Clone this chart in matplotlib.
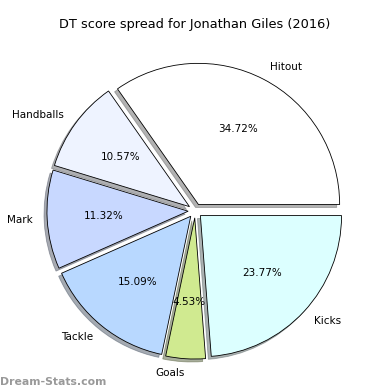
import matplotlib
matplotlib.use("Agg")
import matplotlib.pyplot as plt

labels = ["Hitout", "Handballs", "Mark", "Tackle", "Goals", "Kicks"]
values = [34.72, 10.57, 11.32, 15.09, 4.53, 23.77]
colors = ["#ffffff", "#eef3ff", "#c8d8ff", "#b8d8ff", "#d0ea90", "#dcffff"]

fig = plt.figure(figsize=(3.9, 3.9), dpi=100)
ax = fig.add_axes([0.048, 0.007, 0.905, 0.905])
wedges, texts, autotexts = ax.pie(values, labels=labels, colors=colors, autopct="%.2f%%",
                                  explode=[0.05] * len(values),
                                  shadow=dict(ox=-0.015, oy=-0.015, shade=0.6),
                                  startangle=0,
                                  wedgeprops=dict(edgecolor="black", linewidth=0.6),
                                  textprops=dict(fontsize=7.5))
ax.set_aspect("equal")
fig.suptitle("DT score spread for Jonathan Giles (2016)", fontsize=9.3, y=0.955)
fig.text(0.0, 0.012, "Dream-Stats.com", fontsize=7.8, color="#999999", fontweight="bold")
fig.savefig("out.png", dpi=100)
